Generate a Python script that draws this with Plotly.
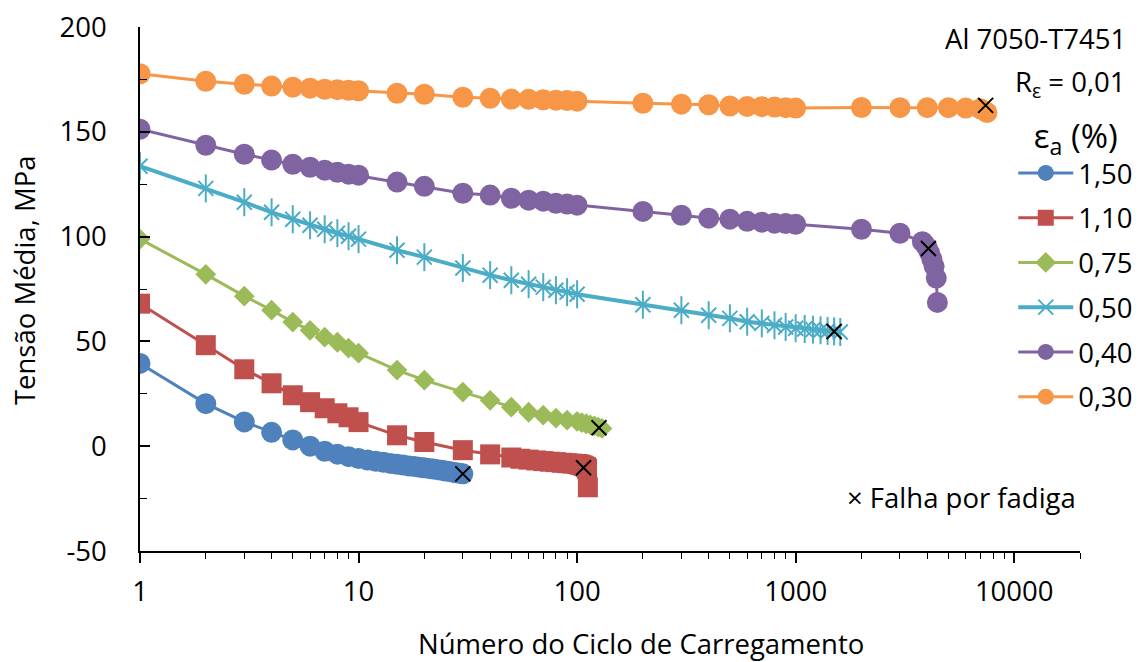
import math
import plotly.graph_objects as go

# Mean stress (MPa) versus loading cycle, Al 7050-T7451, R_eps = 0.01
cycles_150 = [1, 2, 3, 4, 5, 6, 7, 8, 9, 10, 11, 12, 13, 14, 15, 16, 17, 18, 19, 20,
              21, 22, 23, 24, 25, 26, 27, 28, 29, 30]
stress_150 = [39.5, 20.3, 11.6, 6.6, 3.0, 0.0, -2.4, -3.8, -5.0, -5.9, -6.6, -7.2, -7.7,
              -8.2, -8.6, -9.0, -9.4, -9.7, -10.0, -10.3, -10.6, -10.9, -11.2, -11.5,
              -11.8, -12.1, -12.4, -12.7, -12.9, -13.2]

cycles_110 = [1, 2, 3, 4, 5, 6, 7, 8, 9, 10, 15, 20, 30, 40, 50, 55, 60, 65, 70, 75,
              80, 85, 90, 95, 100, 102, 104, 106, 108, 110, 111, 112]
stress_110 = [68.0, 48.2, 36.7, 30.0, 24.3, 21.0, 18.1, 15.7, 13.8, 11.5, 5.2, 2.0,
              -1.9, -3.9, -5.4, -6.0, -6.4, -6.8, -7.1, -7.4, -7.6, -7.9, -8.1, -8.3,
              -8.5, -8.7, -8.9, -9.2, -9.6, -10.0, -10.8, -19.6]

cycles_075 = [1, 2, 3, 4, 5, 6, 7, 8, 9, 10, 15, 20, 30, 40, 50, 60, 70, 80, 90, 100,
              105, 110, 115, 120, 125, 130]
stress_075 = [98.8, 82.0, 71.6, 64.9, 59.2, 55.3, 52.0, 49.6, 46.8, 44.4, 36.3, 31.5,
              25.8, 21.9, 18.6, 16.2, 14.8, 13.4, 12.4, 11.8, 11.2, 10.7, 10.2, 9.7,
              9.1, 8.5]

cycles_050 = [1, 2, 3, 4, 5, 6, 7, 8, 9, 10, 15, 20, 30, 40, 50, 60, 70, 80, 90, 100,
              200, 300, 400, 500, 600, 700, 800, 900, 1000, 1100, 1200, 1300, 1400,
              1500, 1600]
stress_050 = [133.6, 123.0, 116.4, 111.6, 108.3, 105.4, 103.5, 101.6, 100.2, 98.8,
              93.5, 90.2, 85.0, 81.6, 79.2, 77.3, 75.9, 74.4, 73.5, 72.5, 67.5, 64.9,
              62.5, 61.0, 59.4, 58.6, 57.7, 56.9, 56.3, 55.9, 55.6, 55.3, 55.0, 54.8,
              54.5]

cycles_040 = [1, 2, 3, 4, 5, 6, 7, 8, 9, 10, 15, 20, 30, 40, 50, 60, 70, 80, 90, 100,
              200, 300, 400, 500, 600, 700, 800, 900, 1000, 2000, 3000, 3800, 3900,
              4000, 4100, 4200, 4300, 4400, 4450]
stress_040 = [151.2, 143.6, 139.3, 136.5, 134.5, 133.1, 131.7, 130.7, 129.8, 129.3,
              126.0, 124.0, 120.7, 119.8, 118.3, 117.4, 116.9, 115.9, 115.5, 115.0,
              112.0, 110.2, 108.8, 108.3, 107.3, 106.9, 106.4, 106.2, 105.9, 103.5,
              101.6, 97.6, 96.3, 94.6, 92.2, 89.2, 85.8, 80.2, 68.6]

cycles_030 = [1, 2, 3, 4, 5, 6, 7, 8, 9, 10, 15, 20, 30, 40, 50, 60, 70, 80, 90, 100,
              200, 300, 400, 500, 600, 700, 800, 900, 1000, 2000, 3000, 4000, 5000,
              6000, 7000, 7500]
stress_030 = [177.7, 174.1, 172.7, 171.8, 171.3, 170.8, 170.3, 170.1, 169.8, 169.6,
              168.4, 167.9, 166.5, 166.0, 165.6, 165.5, 165.3, 165.1, 164.9, 164.6,
              163.6, 163.2, 162.9, 162.3, 162.1, 162.0, 161.8, 161.5, 161.3, 161.6,
              161.5, 161.5, 161.5, 161.3, 161.0, 159.2]

# Fatigue failure points
fail_cycles = [30, 107, 126, 1500, 4050, 7400]
fail_stress = [-13.2, -10.3, 8.8, 54.7, 94.3, 162.6]

series = [
    ("1,50", cycles_150, stress_150, "#4F81BD", "circle", 21, 3),
    ("1,10", cycles_110, stress_110, "#C0504D", "square", 20, 3),
    ("0,75", cycles_075, stress_075, "#9BBB59", "diamond", 16, 3),
    ("0,50", cycles_050, stress_050, "#4BACC6", "star", 15, 4),
    ("0,40", cycles_040, stress_040, "#8064A2", "circle", 21, 3),
    ("0,30", cycles_030, stress_030, "#F79646", "circle", 21, 3),
]

y_ticks = [-50, 0, 50, 100, 150, 200]
y_ticktext = ["-50", "0", "50", "100", "150", "200"]
x_ticks = [1, 10, 100, 1000, 10000]
x_ticktext = ["1", "10", "100", "1000", "10000"]

FONT = "Open Sans"
FS = 27.5
fig = go.Figure()

for name, xs, ys, color, symbol, size, lw in series:
    if symbol == "star":
        # six-armed star: an X plus a vertical stroke
        fig.add_trace(go.Scatter(
            x=xs, y=ys, name=name, mode="lines+markers", legendgroup=name,
            line=dict(color=color, width=lw),
            marker=dict(symbol="x-thin-open", size=size, color=color,
                        line=dict(color=color, width=2)),
            showlegend=True))
        fig.add_trace(go.Scatter(
            x=xs, y=ys, mode="markers", legendgroup=name, showlegend=False,
            marker=dict(symbol="line-ns-open", size=size + 5, color=color,
                        line=dict(color=color, width=2)),
            hoverinfo="skip"))
    else:
        fig.add_trace(go.Scatter(
            x=xs, y=ys, name=name, mode="lines+markers", legendgroup=name,
            line=dict(color=color, width=lw),
            marker=dict(symbol=symbol, size=size, color=color, line=dict(width=0))))

fig.add_trace(go.Scatter(
    x=fail_cycles, y=fail_stress, mode="markers", showlegend=False,
    name="Falha por fadiga",
    marker=dict(symbol="x-thin-open", size=15, color="black",
                line=dict(color="black", width=2))))

fig.update_layout(
    width=1139, height=662,
    margin=dict(l=140, r=59, t=27, b=111, autoexpand=False),
    paper_bgcolor="white", plot_bgcolor="white",
    font=dict(family=FONT, size=FS, color="black"),
    legend=dict(
        x=0.929, y=0.85, xanchor="left", yanchor="top",
        bgcolor="rgba(0,0,0,0)", itemwidth=55,
        title=dict(text="ε<sub>a</sub> (%)", side="top center"),
        traceorder="grouped", tracegroupgap=6,
        font=dict(family=FONT, size=FS),
    ),
    xaxis=dict(
        type="log", range=[0, math.log10(20000)],
        tickvals=x_ticks, ticktext=x_ticktext,
        ticks="outside", ticklen=10, tickwidth=1.5, tickcolor="black",
        ticklabelstandoff=5,
        minor=dict(ticks="outside", ticklen=6, tickwidth=1.2, tickcolor="black",
                   dtick="D1", showgrid=False),
        showline=True, linecolor="black", linewidth=1.5,
        showgrid=False, zeroline=False, automargin=False,
    ),
    yaxis=dict(
        range=[-50, 200],
        tickvals=y_ticks, ticktext=y_ticktext,
        ticks="inside", ticklen=10, tickwidth=1.5, tickcolor="black",
        ticklabelstandoff=26,
        minor=dict(ticks="inside", ticklen=7, tickwidth=1.2, tickcolor="black",
                   dtick=25, showgrid=False),
        showline=True, linecolor="black", linewidth=1.5,
        showgrid=False, zeroline=False, automargin=False,
    ),
    annotations=[
        dict(text="Al 7050-T7451", x=1.0511, y=0.979, xref="paper", yref="paper",
             xanchor="right", yanchor="middle", showarrow=False),
        dict(text="R<sub>ε</sub> = 0,01", x=1.0511, y=0.893, xref="paper", yref="paper",
             xanchor="right", yanchor="middle", showarrow=False),
        dict(text="× Falha por fadiga", x=0.998, y=0.103, xref="paper", yref="paper",
             xanchor="right", yanchor="middle", showarrow=False),
        dict(text="Número do Ciclo de Carregamento", x=0.533, y=-0.176,
             xref="paper", yref="paper", xanchor="center", yanchor="middle",
             showarrow=False),
        dict(text="Tensão Média, MPa", x=-0.1234, y=0.517, textangle=-90,
             xref="paper", yref="paper", xanchor="center", yanchor="middle",
             showarrow=False),
    ],
)

fig.write_html("out.html")
